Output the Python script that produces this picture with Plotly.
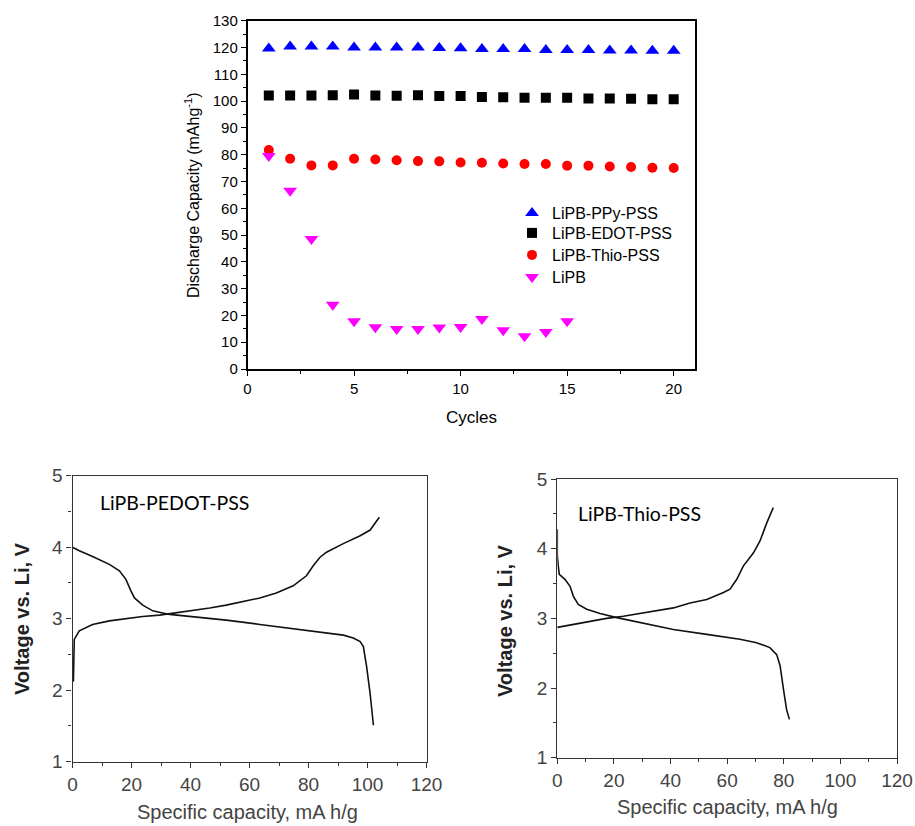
import plotly.graph_objects as go

W, H = 915, 826

# ---------------- data: cycling ----------------
cycles = list(range(1, 21))
ppy_pss = [119.6, 120.4, 120.4, 120.4, 120.0, 120.0, 120.0, 120.0, 119.8, 119.7,
           119.4, 119.4, 119.4, 119.1, 119.1, 119.1, 118.9, 118.9, 118.8, 118.8]
edot_pss = [102.1, 102.1, 102.1, 102.2, 102.5, 102.1, 102.0, 102.2, 101.9, 101.9,
            101.5, 101.4, 101.2, 101.2, 101.2, 101.0, 101.0, 100.9, 100.7, 100.7]
thio_pss = [81.7, 78.5, 76.0, 76.0, 78.5, 78.2, 77.9, 77.6, 77.5, 77.1,
            77.0, 76.7, 76.5, 76.5, 75.9, 75.9, 75.6, 75.4, 75.1, 75.0]
cycles_lipb = list(range(1, 16))
lipb = [79.5, 66.5, 48.5, 24.0, 17.8, 15.6, 14.9, 14.9, 15.5, 15.7,
        18.7, 14.5, 12.2, 13.8, 17.8]

# ---------------- data: PEDOT charge/discharge ----------------
pedot_chg_cap = [0.3, 0.4, 0.6, 2.3, 6.8, 12.5, 18.1, 23.8, 29.5, 32.9, 40.8, 46.5, 52.1,
                 57.8, 63.5, 69.1, 74.8, 79.3, 81.6, 83.9, 86.1, 91.8, 97.5, 100.9, 102.5, 104.0]
pedot_chg_v = [2.12, 2.45, 2.71, 2.83, 2.92, 2.97, 3.0, 3.03, 3.05, 3.07, 3.11, 3.15, 3.19,
               3.24, 3.29, 3.36, 3.46, 3.6, 3.74, 3.86, 3.93, 4.05, 4.16, 4.24, 4.33, 4.42]
pedot_dis_cap = [0, 2.3, 6.8, 12.5, 15.9, 18.1, 19.8, 21.0, 23.8, 27.2, 32.9, 40.8, 52.1,
                 63.5, 74.8, 86.1, 91.8, 95.2, 97.5, 98.6, 99.7, 100.9, 102.0]
pedot_dis_v = [4.0, 3.95, 3.87, 3.76, 3.67, 3.55, 3.39, 3.29, 3.19, 3.11, 3.06, 3.03, 2.98,
               2.92, 2.86, 2.80, 2.77, 2.73, 2.68, 2.61, 2.33, 1.95, 1.51]

# ---------------- data: Thio charge/discharge ----------------
thio_dis_cap = [0, 0, 0.35, 0.7, 2.7, 4.5, 5.65, 7.4, 10.4, 15.1, 21.0, 29.2, 41.0,
                52.8, 64.5, 70.4, 75.1, 77.5, 78.7, 79.9, 81.0, 82.0]
thio_dis_v = [4.28, 3.9, 3.75, 3.63, 3.56, 3.46, 3.32, 3.2, 3.13, 3.07, 3.01, 2.94, 2.84,
              2.77, 2.70, 2.65, 2.58, 2.48, 2.32, 1.98, 1.69, 1.55]
thio_chg_cap = [0, 5.65, 11.5, 17.4, 23.3, 29.2, 35.1, 41.0, 46.9, 52.8, 58.7, 61.0,
                63.4, 65.7, 69.3, 71.6, 74.0, 76.3]
thio_chg_v = [2.87, 2.91, 2.96, 3.0, 3.03, 3.07, 3.12, 3.15, 3.22, 3.27, 3.37, 3.42,
              3.56, 3.75, 3.94, 4.11, 4.37, 4.59]

series_names = ["LiPB-PPy-PSS", "LiPB-EDOT-PSS", "LiPB-Thio-PSS", "LiPB"]


def px(x):
    return x / W


def py(y):
    return 1 - y / H


fig = go.Figure()

fig.add_trace(go.Scatter(x=cycles, y=ppy_pss, mode="markers", name=series_names[0],
                         legend="legend",
                         marker=dict(symbol="triangle-up", size=12, color="#0000ff")))
fig.add_trace(go.Scatter(x=cycles, y=edot_pss, mode="markers", name=series_names[1],
                         legend="legend2",
                         marker=dict(symbol="square", size=10, color="#000000")))
fig.add_trace(go.Scatter(x=cycles, y=thio_pss, mode="markers", name=series_names[2],
                         legend="legend3",
                         marker=dict(symbol="circle", size=10, color="#ff0000")))
fig.add_trace(go.Scatter(x=cycles_lipb, y=lipb, mode="markers", name=series_names[3],
                         legend="legend4",
                         marker=dict(symbol="triangle-down", size=12, color="#ff00ff")))

line_style = dict(color="#111111", width=1.6)
fig.add_trace(go.Scatter(x=pedot_chg_cap, y=pedot_chg_v, mode="lines", line=line_style,
                         xaxis="x2", yaxis="y2", showlegend=False))
fig.add_trace(go.Scatter(x=pedot_dis_cap, y=pedot_dis_v, mode="lines", line=line_style,
                         xaxis="x2", yaxis="y2", showlegend=False))
fig.add_trace(go.Scatter(x=thio_chg_cap, y=thio_chg_v, mode="lines", line=line_style,
                         xaxis="x3", yaxis="y3", showlegend=False))
fig.add_trace(go.Scatter(x=thio_dis_cap, y=thio_dis_v, mode="lines", line=line_style,
                         xaxis="x3", yaxis="y3", showlegend=False))

ARIAL = "Arial, Liberation Sans, sans-serif"
top_font = dict(family=ARIAL, size=15, color="#000")
bot_font = dict(family=ARIAL, size=19, color="#444")

common_top = dict(showline=True, linecolor="#000", linewidth=1.5, mirror=True,
                  ticks="outside", ticklen=5, tickwidth=1.2, tickcolor="#000",
                  showgrid=False, zeroline=False, tickfont=top_font, automargin=False)
common_bot = dict(showline=True, linecolor="#333", linewidth=1.3, mirror=True,
                  ticks="outside", ticklen=5, tickwidth=1.1, tickcolor="#333",
                  showgrid=False, zeroline=False, tickfont=bot_font, automargin=False,
                  ticklabeloverflow="allow")

legend_rows = [213, 233, 255, 277]
legend_common = dict(x=px(512), xanchor="left", yanchor="middle",
                     bgcolor="rgba(0,0,0,0)",
                     font=dict(family=ARIAL, size=16, color="#000"))

fig.update_layout(
    width=W, height=H,
    margin=dict(l=0, r=0, t=0, b=0, autoexpand=False),
    paper_bgcolor="white", plot_bgcolor="white",
    xaxis=dict(domain=[px(247.5), px(695)], range=[0, 21], dtick=5,
               minor=dict(dtick=2.5, ticks="outside", ticklen=3, tickcolor="#000"),
               anchor="y", **common_top),
    yaxis=dict(domain=[py(369), py(20.7)], range=[0, 130], dtick=10,
               minor=dict(dtick=5, ticks="outside", ticklen=3, tickcolor="#000"),
               anchor="x", **common_top),
    xaxis2=dict(domain=[px(72.5), px(426.5)], range=[0, 120], dtick=20,
                minor=dict(dtick=10, ticks="outside", ticklen=3, tickcolor="#333"),
                anchor="y2", **common_bot),
    yaxis2=dict(domain=[py(761.7), py(475.7)], range=[1, 5], dtick=1,
                minor=dict(dtick=0.5, ticks="outside", ticklen=3, tickcolor="#333"),
                anchor="x2", **common_bot),
    xaxis3=dict(domain=[px(557.3), px(897)], range=[0, 120], dtick=20,
                minor=dict(dtick=10, ticks="outside", ticklen=3, tickcolor="#333"),
                anchor="y3", **common_bot),
    yaxis3=dict(domain=[py(757.7), py(479)], range=[1, 5], dtick=1,
                minor=dict(dtick=0.5, ticks="outside", ticklen=3, tickcolor="#333"),
                anchor="x3", **common_bot),
    legend=dict(y=py(legend_rows[0]), **legend_common),
    legend2=dict(y=py(legend_rows[1]), **legend_common),
    legend3=dict(y=py(legend_rows[2]), **legend_common),
    legend4=dict(y=py(legend_rows[3]), **legend_common),
)

annos = [
    dict(text="Discharge Capacity (mAhg<sup>-1</sup>)", x=px(192), y=py(195), textangle=-90,
         font=dict(family=ARIAL, size=16, color="#000")),
    dict(text="Cycles", x=px(471), y=py(417),
         font=dict(family=ARIAL, size=17, color="#000")),
    dict(text="<b>Voltage vs. Li, V</b>", x=px(22), y=py(619), textangle=-90,
         font=dict(family=ARIAL, size=20, color="#222")),
    dict(text="Specific capacity, mA h/g", x=px(248), y=py(812),
         font=dict(family=ARIAL, size=20, color="#444")),
    dict(text="<b>Voltage vs. Li, V</b>", x=px(505), y=py(620), textangle=-90,
         font=dict(family=ARIAL, size=20, color="#222")),
    dict(text="Specific capacity, mA h/g", x=px(727), y=py(807),
         font=dict(family=ARIAL, size=20, color="#444")),
    dict(text="LiPB-PEDOT-PSS", x=px(98), y=py(502), xanchor="left",
         font=dict(family="Lato, Noto Sans, sans-serif", size=19.5, color="#000")),
    dict(text="LiPB-Thio-PSS", x=px(576), y=py(513), xanchor="left",
         font=dict(family="Lato, Noto Sans, sans-serif", size=19.5, color="#000")),
]
for a in annos:
    a.setdefault("xanchor", "center")
    fig.add_annotation(xref="paper", yref="paper", showarrow=False, yanchor="middle", **a)

# remove the default 8px page margin so the 915x826 figure fills the window exactly
fig.write_html("out.html",
               config={"displayModeBar": False},
               post_script="document.body.style.margin='0';"
                           "document.body.style.overflow='hidden';")
